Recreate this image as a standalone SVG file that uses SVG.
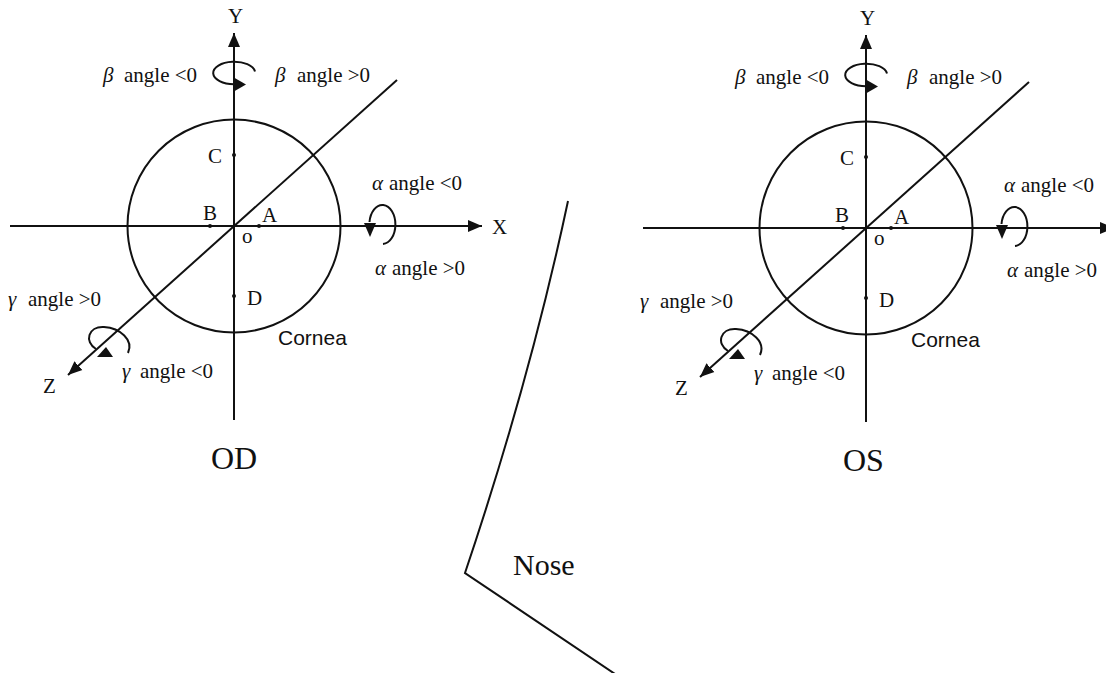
<svg xmlns="http://www.w3.org/2000/svg" width="1106" height="673" viewBox="0 0 1106 673">
<style>
.ln{fill:none;stroke:#111;stroke-width:2}
.ax{fill:none;stroke:#111;stroke-width:2;marker-end:url(#arr)}
.hd{fill:#111;stroke:none}
.t{font-family:"Liberation Serif","Times New Roman",serif;font-size:21px;fill:#111}
.g{font-style:italic}
.s{font-family:"Liberation Sans",Arial,sans-serif;font-size:21px;fill:#111}
.big{font-family:"Liberation Serif","Times New Roman",serif;font-size:32px;fill:#111}
</style>
<defs>
<marker id="arr" viewBox="0 -7 14 14" refX="14" refY="0" markerWidth="14" markerHeight="14" markerUnits="userSpaceOnUse" orient="auto">
<path d="M0,-6 L14,0 L0,6 z" fill="#111"/>
</marker>
</defs>
<rect width="1106" height="673" fill="#fff"/>

<g id="od-eye">
<g id="od-connectors">
<line class="ax" x1="234" y1="420" x2="234" y2="33"/>
<line class="ax" x1="10" y1="226" x2="482" y2="226"/>
<line class="ax" x1="397" y1="80" x2="68" y2="375"/>
<path class="ln" d="M255 71.5 A21 11.3 0 1 0 234 84.3"/>
<path class="hd" d="M233 77 L233 92 L246 84.5 z"/>
<path class="ln" d="M383 244 A13 19.5 0 1 0 369.5 222"/>
<path class="hd" d="M364 223 L376 223 L370 237 z"/>
<path class="ln" d="M96 349 C84 342 88 326 104 327 C120 328 134 340 128 353"/>
<path class="hd" d="M97 357 L113 357 L106 347 z"/>
</g>
<circle class="ln" cx="234" cy="226" r="106.5"/>
<circle cx="234" cy="155" r="2" fill="#111"/>
<circle cx="210" cy="226" r="2" fill="#111"/>
<circle cx="259" cy="226" r="2" fill="#111"/>
<circle cx="234" cy="296" r="2" fill="#111"/>
<text class="t" x="228" y="23">Y</text>
<text class="t" x="492" y="234">X</text>
<text class="t" x="43" y="393">Z</text>
<text class="t" x="208" y="163">C</text>
<text class="t" x="203" y="220">B</text>
<text class="t" x="262" y="222">A</text>
<text class="t" x="242" y="243">o</text>
<text class="t" x="247" y="305">D</text>
<text class="t" x="103" y="82"><tspan class="g">β</tspan><tspan x="124">angle &lt;0</tspan></text>
<text class="t" x="275" y="82"><tspan class="g">β</tspan><tspan x="297">angle &gt;0</tspan></text>
<text class="t" x="372" y="190"><tspan class="g">α</tspan><tspan x="389">angle &lt;0</tspan></text>
<text class="t" x="375" y="275"><tspan class="g">α</tspan><tspan x="392">angle &gt;0</tspan></text>
<text class="t" x="8" y="306"><tspan class="g">γ</tspan><tspan x="28">angle &gt;0</tspan></text>
<text class="t" x="122" y="378"><tspan class="g">γ</tspan><tspan x="140">angle &lt;0</tspan></text>
<text class="s" x="278" y="345">Cornea</text>
<text class="big" x="211" y="469">OD</text>
</g>

<g id="os-eye" transform="translate(632,2)">
<g id="os-connectors">
<line class="ax" x1="234" y1="420" x2="234" y2="33"/>
<line class="ax" x1="11" y1="226" x2="482" y2="226"/>
<line class="ax" x1="397" y1="80" x2="68" y2="375"/>
<path class="ln" d="M255 71.5 A21 11.3 0 1 0 234 84.3"/>
<path class="hd" d="M233 77 L233 92 L246 84.5 z"/>
<path class="ln" d="M383 244 A13 19.5 0 1 0 369.5 222"/>
<path class="hd" d="M364 223 L376 223 L370 237 z"/>
<path class="ln" d="M96 349 C84 342 88 326 104 327 C120 328 134 340 128 353"/>
<path class="hd" d="M97 357 L113 357 L106 347 z"/>
</g>
<circle class="ln" cx="234" cy="226" r="106.5"/>
<circle cx="234" cy="155" r="2" fill="#111"/>
<circle cx="211" cy="226" r="2" fill="#111"/>
<circle cx="259" cy="226" r="2" fill="#111"/>
<circle cx="234" cy="296" r="2" fill="#111"/>
<text class="t" x="228" y="23">Y</text>
<text class="t" x="43" y="393">Z</text>
<text class="t" x="208" y="163">C</text>
<text class="t" x="203" y="220">B</text>
<text class="t" x="262" y="222">A</text>
<text class="t" x="242" y="243">o</text>
<text class="t" x="247" y="305">D</text>
<text class="t" x="103" y="82"><tspan class="g">β</tspan><tspan x="124">angle &lt;0</tspan></text>
<text class="t" x="275" y="82"><tspan class="g">β</tspan><tspan x="297">angle &gt;0</tspan></text>
<text class="t" x="372" y="190"><tspan class="g">α</tspan><tspan x="389">angle &lt;0</tspan></text>
<text class="t" x="375" y="275"><tspan class="g">α</tspan><tspan x="392">angle &gt;0</tspan></text>
<text class="t" x="8" y="306"><tspan class="g">γ</tspan><tspan x="28">angle &gt;0</tspan></text>
<text class="t" x="122" y="378"><tspan class="g">γ</tspan><tspan x="140">angle &lt;0</tspan></text>
<text class="s" x="279" y="345">Cornea</text>
<text class="big" x="211" y="469">OS</text>
</g>

<g id="nose">
<path class="ln" d="M568 201 Q530 380 465 573 L618 676"/>
<text class="big" x="513" y="575" style="font-size:30px">Nose</text>
</g>
</svg>
